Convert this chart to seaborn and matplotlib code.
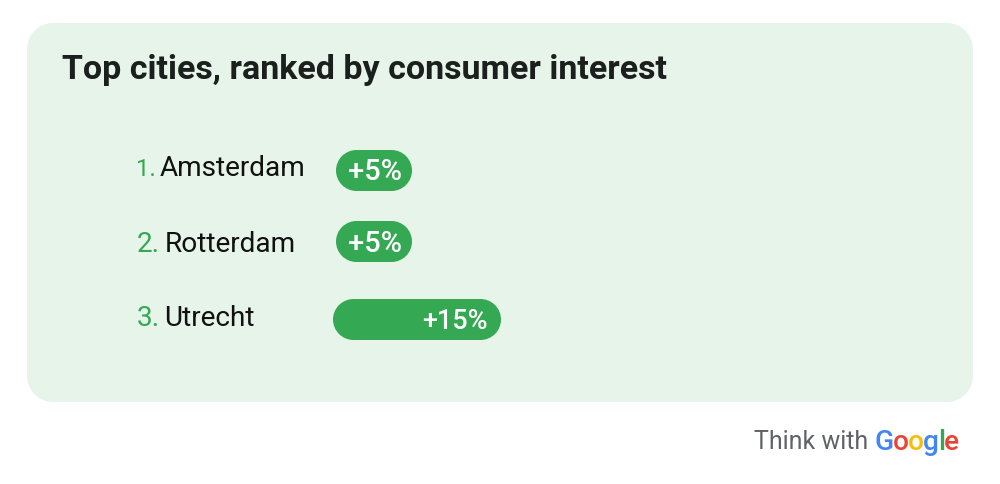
import matplotlib
matplotlib.use("Agg")
import matplotlib.pyplot as plt
import seaborn as sns
import pandas as pd
from matplotlib.patches import PathPatch
from matplotlib.path import Path
from matplotlib.transforms import IdentityTransform, Affine2D

# ---------- Data ----------
title = "Top cities, ranked by consumer interest"
ranks = ["1.", "2.", "3."]
cities = ["Amsterdam", "Rotterdam", "Utrecht"]
interest = [5, 5, 15]
labels = ["+5%", "+5%", "+15%"]
brand_text = "Think with"
brand_letters = ["G", "o", "o", "g", "l", "e"]
brand_colors = ["#4285F4", "#EA4335", "#FBBC04", "#4285F4", "#34A853", "#EA4335"]

GREEN = "#34A853"
PANEL = "#E6F4EA"
W, H = 1000, 484

sns.set_theme(style="white")
plt.rcParams["font.family"] = ["Roboto", "DejaVu Sans"]

df = pd.DataFrame({"city": cities, "interest": interest})

fig = plt.figure(figsize=(W / 100, H / 100), dpi=100, facecolor="white")


def ptext(x, y, s, size, **kw):
    # x, y in image pixels, size in pixels
    kw.setdefault("va", "center")
    return fig.text(x / W, 1 - y / H, s, fontsize=size * 0.72, **kw)


def rounded_box(x0, y0, w, h, r, color):
    # true circular corners, FancyBboxPatch corners come out too square
    corners = [(x0 + w - r, y0 + r, -90, 0), (x0 + w - r, y0 + h - r, 0, 90),
               (x0 + r, y0 + h - r, 90, 180), (x0 + r, y0 + r, 180, 270)]
    verts, codes = [], []
    for cx, cy, a, b in corners:
        arc = Path.arc(a, b)
        verts.extend(Affine2D().scale(r).translate(cx, cy).transform(arc.vertices))
        codes.extend([Path.LINETO if codes else Path.MOVETO] + list(arc.codes[1:]))
    verts.append(verts[0])
    codes.append(Path.CLOSEPOLY)
    patch = PathPatch(Path(verts, codes), fc=color, ec="none", transform=IdentityTransform(), figure=fig)
    fig.patches.append(patch)


# background panel
rounded_box(27, H - 402, 946, 379, 26, PANEL)

# bars, scale puts 0 at x=367.5 and 15 at x=501
ax = fig.add_axes([367.5 / W, 1 - 340 / H, 133.5 / W, 190 / H])
ax.patch.set_alpha(0)
sns.barplot(data=df, x="interest", y="city", orient="h", color=GREEN, width=0.55, ax=ax)
ax.set_xlim(0, 15)
ax.set_ylim(2 + 20.5 / 74.5, -20.5 / 74.5)
ax.axis("off")

# swap the square bars for pills, they extend left of zero to hold the label
starts = [336, 336, 333]
nudges = [0, 3.5, 0]
label_size = [29, 29, 27]
fig.canvas.draw()
for i, bar in enumerate(list(ax.patches)):
    bb = bar.get_window_extent()
    bar.set_visible(False)
    y0 = bb.y0 + nudges[i]
    rounded_box(starts[i], y0, bb.x1 - starts[i], bb.height, bb.height / 2, GREEN)
    right_pad = 10 if i < 2 else 13
    ptext(bb.x1 - right_pad, H - (y0 + bb.height / 2) + 2, labels[i], label_size[i], color="white",
          ha="right", weight="medium")

# rank + city labels, the Roboto 1 is wider than the original so it runs a bit smaller
text_y = [169, 244, 319]
name_x = [160, 165, 164]
rank_size = [24, 28, 28]
for i in range(3):
    ptext(136.5, text_y[i], ranks[i], rank_size[i], color=GREEN, ha="left")
    ptext(name_x[i], text_y[i], cities[i], 28, color="#111111", ha="left")

ptext(62, 70, title, 34, color="#1B1F1D", ha="left", weight="bold")

# footer logo text
ptext(754, 442, brand_text, 25, color="#5F6368", ha="left")
x = 875
r = fig.canvas.get_renderer()
for ch, col in zip(brand_letters, brand_colors):
    t = ptext(x, 450, ch, 28, color=col, ha="left", weight="medium", va="baseline")
    x = t.get_window_extent(r).x1 - 1

fig.savefig("out.png", dpi=100)
